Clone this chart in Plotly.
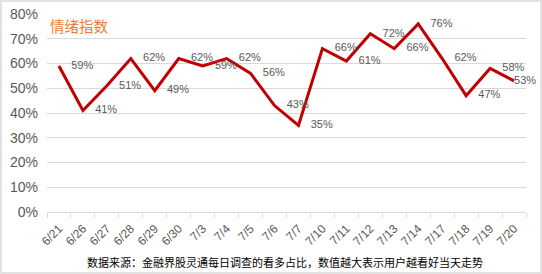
import plotly.graph_objects as go

dates = ["6/21", "6/26", "6/27", "6/28", "6/29", "6/30", "7/3", "7/4", "7/5", "7/6",
         "7/7", "7/10", "7/11", "7/12", "7/13", "7/14", "7/17", "7/18", "7/19", "7/20"]
values = [0.59, 0.41, 0.51, 0.62, 0.49, 0.62, 0.59, 0.62, 0.56, 0.43,
          0.35, 0.66, 0.61, 0.72, 0.66, 0.76, 0.62, 0.47, 0.58, 0.53]
labels = [f"{round(v*100)}%" for v in values]

# last label sits tight against the end of the line so it stays inside the frame
label_text = ["    " + t for t in labels[:-1]] + [labels[-1]]

fig = go.Figure()
fig.add_trace(go.Scatter(
    x=dates, y=values, mode="lines",
    line=dict(color="#C00000", width=3),
    showlegend=False,
))
fig.add_trace(go.Scatter(
    x=dates, y=values, mode="text",
    text=label_text, textposition="middle right",
    textfont=dict(family="Liberation Sans, Arial", size=11, color="#595959"),
    cliponaxis=False, showlegend=False, hoverinfo="skip",
))

fig.update_layout(
    width=542, height=274,
    margin=dict(l=47, r=16, t=14, b=62),
    paper_bgcolor="white", plot_bgcolor="white",
    xaxis=dict(
        type="category", tickangle=-45, tickson="boundaries",
        range=[-0.5, len(dates) - 0.5],
        ticks="outside", ticklen=5, tickcolor="#d9d9d9",
        showline=True, linecolor="#d9d9d9", linewidth=1,
        showgrid=False, automargin=False, ticklabelstandoff=4,
        tickfont=dict(family="Liberation Sans, Arial", size=12, color="#595959"),
    ),
    yaxis=dict(
        range=[0, 0.8], dtick=0.1, tickformat=".0%",
        showgrid=True, gridcolor="#d9d9d9", gridwidth=1,
        zeroline=False, showline=False, automargin=False,
        ticks="", ticklabelstandoff=8,
        tickfont=dict(family="Liberation Sans, Arial", size=14, color="#595959"),
    ),
    font=dict(family="Liberation Sans, Arial"),
)

fig.add_annotation(
    text="情绪指数", xref="paper", yref="paper", x=0.003, y=0.94,
    xanchor="left", yanchor="middle", showarrow=False,
    font=dict(family="Noto Sans CJK SC", size=14.5, color="#ED7D31"),
)
fig.add_annotation(
    text="数据来源：金融界股灵通每日调查的看多占比，数值越大表示用户越看好当天走势",
    xref="paper", yref="paper", x=0.497, y=-0.255,
    xanchor="center", yanchor="middle", showarrow=False,
    font=dict(family="Noto Sans CJK SC", size=11, color="#000000"),
)
fig.add_shape(
    type="rect", xref="paper", yref="paper",
    x0=-46/479, x1=1+15/479, y0=-61/198, y1=1+13/198,
    line=dict(color="#d9d9d9", width=1.5), fillcolor="rgba(0,0,0,0)",
)

fig.write_html("out.html")
